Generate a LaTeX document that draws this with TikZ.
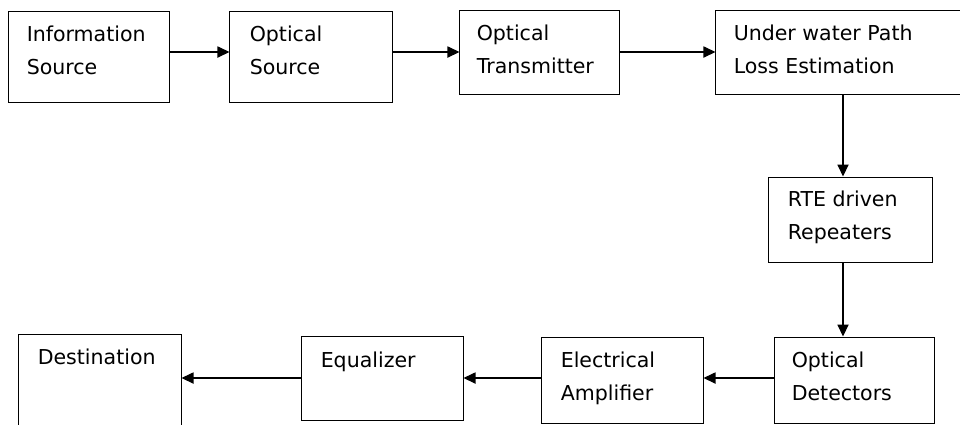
\documentclass[tikz,border=0pt]{standalone}
\usepackage{fontspec}
\setmainfont{DejaVu Sans}
\usetikzlibrary{arrows.meta}
\begin{document}
\begin{tikzpicture}[x=0.025cm, y=-0.025cm,
    box/.style={draw=black, line width=0.7pt, inner sep=0pt},
    txt/.style={anchor=base west, align=left, inner sep=0pt,
      font=\fontsize{14.6pt}{23.5pt}\selectfont},
    arr/.style={line width=0.8pt, -{Triangle[length=0.3cm, width=0.28cm]}}]
            \useasboundingbox (0,0) rectangle (960,424);
            % top row
            \node[box, minimum width=4cm, minimum height=2.275cm] (info) at (89,56.5) {};
            \node[box, minimum width=4.05cm, minimum height=2.275cm] (osrc) at (311,56.5) {};
            \node[box, minimum width=3.975cm, minimum height=2.1cm] (otx) at (539.5,52) {};
            \node[box, minimum width=6.35cm, minimum height=2.1cm] (uwp) at (843,52) {};
            % right column
            \node[box, minimum width=4.075cm, minimum height=2.125cm] (rte) at (850.5,219.5) {};
            % bottom row
            \node[box, minimum width=3.975cm, minimum height=2.15cm] (odet) at (854.5,380) {};
            \node[box, minimum width=4.025cm, minimum height=2.15cm] (eamp) at (622.5,380) {};
            \node[box, minimum width=4.025cm, minimum height=2.1cm] (equ) at (382.5,378) {};
            \node[box, minimum width=4.05cm, minimum height=2.5cm] (dest) at (100,384) {};
            % texts (base = last line)
            \node[txt] (infoT) at ([shift={(18,64)}]info.north west) {Information\\Source};
            \node[txt] (osrcT) at ([shift={(20,64)}]osrc.north west) {Optical\\Source};
            \node[txt] (otxT) at ([shift={(17,64)}]otx.north west) {Optical\\Transmitter};
            \node[txt] (uwpT) at ([shift={(18,64)}]uwp.north west) {Under water Path\\Loss Estimation};
            \node[txt] (rteT) at ([shift={(19,63)}]rte.north west) {RTE driven\\Repeaters};
            \node[txt] (odetT) at ([shift={(17,64)}]odet.north west) {Optical\\Detectors};
            \node[txt] (eampT) at ([shift={(19,64)}]eamp.north west) {Electrical\\Amplifier};
            \node[txt] (equT) at ([shift={(19,32)}]equ.north west) {Equalizer};
            \node[txt] (destT) at ([shift={(19,31)}]dest.north west) {Destination};
            % arrows
            \draw[arr] (info.east |- otx.west) -- (osrc.west |- otx.west);
            \draw[arr] (osrc.east |- otx.west) -- (otx.west);
            \draw[arr] (otx.east) -- (uwp.west);
            \draw[arr] (uwp.south) -- (uwp.south |- rte.north);
            \draw[arr] (rte.south -| uwp.south) -- (odet.north -| uwp.south);
            \draw[arr] (odet.west |- equ.east) -- (eamp.east |- equ.east);
            \draw[arr] (eamp.west |- equ.east) -- (equ.east);
            \draw[arr] (equ.west) -- (dest.east |- equ.west);
          \end{tikzpicture}
\end{document}
